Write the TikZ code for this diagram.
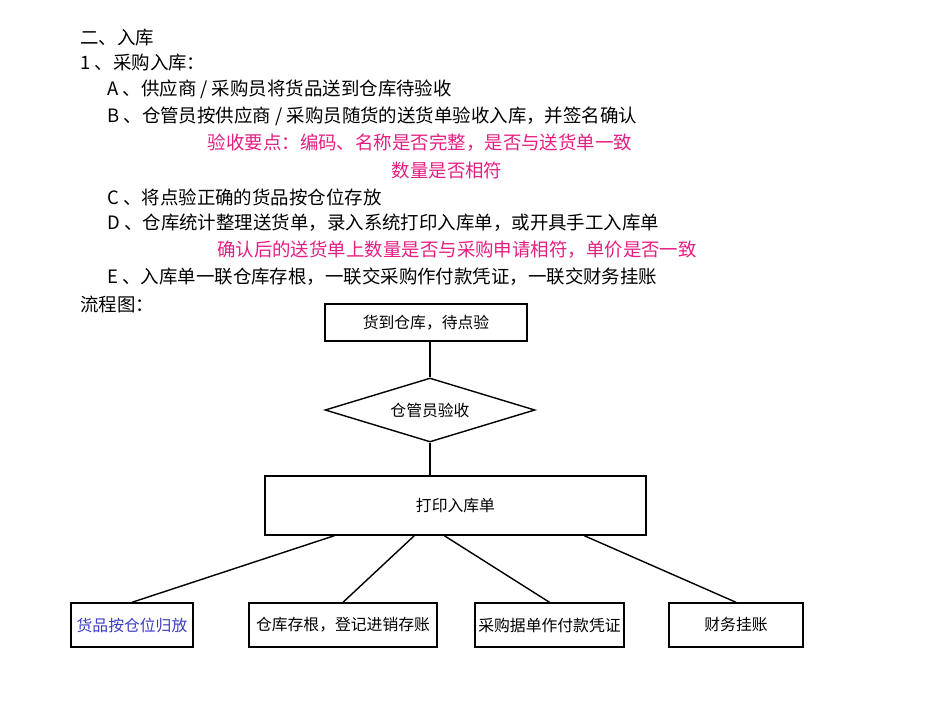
\documentclass[tikz,border=0pt]{standalone}
\usepackage{fontspec}
\setmainfont{Noto Sans CJK SC}
\usetikzlibrary{shapes.geometric}
\definecolor{keypink}{RGB}{230,30,130}
\definecolor{stepblue}{RGB}{60,60,200}
\tikzset{
  txt/.style={anchor=west,inner sep=0pt,font=\fontsize{10.5}{12}\selectfont},
  note/.style={inner sep=0pt,text=keypink,font=\fontsize{10.5}{12}\selectfont},
  flowbox/.style={draw,thick,minimum height=0.74cm,inner sep=0pt,font=\fontsize{9}{10}\selectfont},
  flowline/.style={thick}
}
\begin{document}
\begin{tikzpicture}[x=0.02cm,y=-0.02cm]
\useasboundingbox (0,0) rectangle (950,713);

% text lines
\node[txt] (t1) at (80,38) {二、入库};
\node[txt] (t2) at (80,63) {1 、采购入库：};
\node[txt] (tA) at (107,89) {A 、供应商 / 采购员将货品送到仓库待验收};
\node[txt] (tB) at (107,116) {B 、仓管员按供应商 / 采购员随货的送货单验收入库，并签名确认};
\node[note] (nB1) at (420,143) {验收要点：编码、名称是否完整，是否与送货单一致};
\node[note] (nB2) at (447,170) {数量是否相符};
\node[txt] (tC) at (107,197) {C 、将点验正确的货品按仓位存放};
\node[txt] (tD) at (107,223) {D 、仓库统计整理送货单，录入系统打印入库单，或开具手工入库单};
\node[note] (nD) at (457,250) {确认后的送货单上数量是否与采购申请相符，单价是否一致};
\node[txt] (tE) at (107,277) {E 、入库单一联仓库存根，一联交采购作付款凭证，一联交财务挂账};
\node[txt] (tF) at (80,304) {流程图：};

% flow chart
\node[flowbox,minimum width=4.04cm] (arrive) at (426,322.5) {货到仓库，待点验};
\node[draw,thick,diamond,aspect=3.3,minimum width=4.2cm,minimum height=1.28cm,inner sep=0pt,
      font=\fontsize{9}{10}\selectfont] (check) at (430,410) {仓管员验收};
\node[flowbox,minimum width=7.62cm,minimum height=1.18cm] (print) at (455.5,505.5) {打印入库单};

\node[flowbox,minimum width=2.44cm,minimum height=0.88cm,text=stepblue] (store) at (132,625) {货品按仓位归放};
\node[flowbox,minimum width=3.76cm,minimum height=0.88cm] (stub) at (343,625) {仓库存根，登记进销存账};
\node[flowbox,minimum width=2.98cm,minimum height=0.88cm] (pay) at (549.5,625) {采购据单作付款凭证};
\node[flowbox,minimum width=2.68cm,minimum height=0.88cm] (acct) at (736,625) {财务挂账};

\draw[flowline] (arrive.south -| check.north) -- (check.north);
\draw[flowline] (check.south) -- (check.south |- print.north);
\draw[flowline] ([xshift=1.4cm]print.south west) -- (store.north);
\draw[flowline] ([xshift=3.0cm]print.south west) -- (stub.north);
\draw[flowline] ([xshift=3.6cm]print.south west) -- (pay.north);
\draw[flowline] ([xshift=6.4cm]print.south west) -- (acct.north);

\end{tikzpicture}
\end{document}
